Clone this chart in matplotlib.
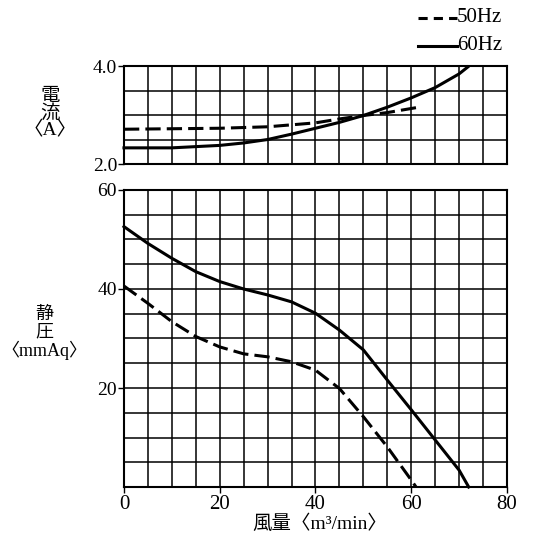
import matplotlib
matplotlib.use("Agg")
import matplotlib.pyplot as plt
from matplotlib.lines import Line2D

plt.rcParams['font.family'] = ['Liberation Serif', 'Noto Sans CJK JP', 'DejaVu Sans']

# airflow (m3/min)
cur60_x = [0, 10, 20, 25, 30, 35, 40, 45, 50, 55, 60, 65, 70, 71.8]
cur60_y = [2.33, 2.33, 2.38, 2.43, 2.50, 2.61, 2.73, 2.85, 2.99, 3.16, 3.35, 3.56, 3.84, 3.98]
cur50_x = [0, 20, 30, 40, 45, 50, 55, 61]
cur50_y = [2.71, 2.73, 2.76, 2.84, 2.92, 2.99, 3.05, 3.15]

pr60_x = [0, 5, 10, 15, 20, 25, 30, 35, 40, 45, 50, 55, 60, 65, 70, 72]
pr60_y = [52.6, 49.2, 46.2, 43.5, 41.5, 40.0, 38.8, 37.4, 35.1, 31.7, 27.7, 21.6, 15.6, 9.5, 3.4, 0.0]
pr50_x = [0, 5, 10, 15, 20, 25, 30, 35, 40, 45, 50, 55, 60, 61]
pr50_y = [40.6, 37.1, 33.4, 30.4, 28.3, 26.9, 26.3, 25.3, 23.6, 19.9, 14.2, 8.1, 1.4, 0.0]

xticks = [0, 20, 40, 60, 80]
cur_ticks = [2.0, 4.0]
pr_ticks = [20, 40, 60]

fig = plt.figure(figsize=(5.4, 5.48), dpi=100)
axt = fig.add_axes([0.2296, 0.7007, 0.7093, 0.1788])
axb = fig.add_axes([0.2296, 0.1113, 0.7093, 0.5420])

dash = (0, (5, 2.0))
lw = 2.2

for ax in (axt, axb):
    ax.set_xlim(0, 80)
    ax.set_xticks([i * 5 for i in range(17)], minor=True)
    ax.grid(True, which='both', color='black', linewidth=1.1)
    for s in ax.spines.values():
        s.set_linewidth(1.5)
    ax.set_axisbelow(True)

axt.set_ylim(2.0, 4.0)
axt.set_yticks([2.0 + 0.5 * i for i in range(5)], minor=True)
axt.set_yticks(cur_ticks)
axt.set_yticklabels(['2.0', '4.0'], fontsize=14)
axt.set_xticks([])
axt.tick_params(axis='x', which='minor', length=0, labelbottom=False)
axt.tick_params(axis='y', which='minor', length=0)
axt.tick_params(axis='y', which='major', length=4, width=1, pad=1)

axb.set_ylim(0, 60)
axb.set_yticks([5 * i for i in range(13)], minor=True)
axb.set_yticks(pr_ticks)
axb.set_yticklabels([str(v) for v in pr_ticks], fontsize=14)
axb.set_xticks(xticks)
axb.set_xticklabels([str(v) for v in xticks], fontsize=15)
axb.tick_params(axis='both', which='minor', length=0)
axb.tick_params(axis='y', which='major', length=4, width=1, pad=1)
axb.tick_params(axis='x', which='major', length=4, width=1, pad=2)

axt.plot(cur50_x, cur50_y, color='black', lw=lw, linestyle=dash, clip_on=False)
axt.plot(cur60_x, cur60_y, color='black', lw=lw, clip_on=False)
axb.plot(pr50_x, pr50_y, color='black', lw=lw, linestyle=dash, clip_on=False)
axb.plot(pr60_x, pr60_y, color='black', lw=lw, clip_on=False)

# y labels
fig.text(50 / 540, 1 - 114 / 548, '電\n流\n〈A〉', ha='center', va='center', fontsize=14, linespacing=0.95)
fig.text(44 / 540, 1 - 333 / 548, '静\n圧\n〈mmAq〉', ha='center', va='center', fontsize=13, linespacing=1.0)
fig.text(320 / 540, 1 - 524 / 548, '風量〈m³/min〉', ha='center', va='center', fontsize=14)

# legend
fig.add_artist(Line2D([418 / 540, 457 / 540], [1 - 18 / 548] * 2, color='black', lw=lw, linestyle=(0, (3, 2.0))))
fig.add_artist(Line2D([418 / 540, 457 / 540], [1 - 46 / 548] * 2, color='black', lw=lw))
fig.text(457 / 540, 1 - 18 / 548, '50Hz', ha='left', va='center', fontsize=15)
fig.text(457 / 540, 1 - 46 / 548, '60Hz', ha='left', va='center', fontsize=15)

fig.savefig('out.png', dpi=100)
